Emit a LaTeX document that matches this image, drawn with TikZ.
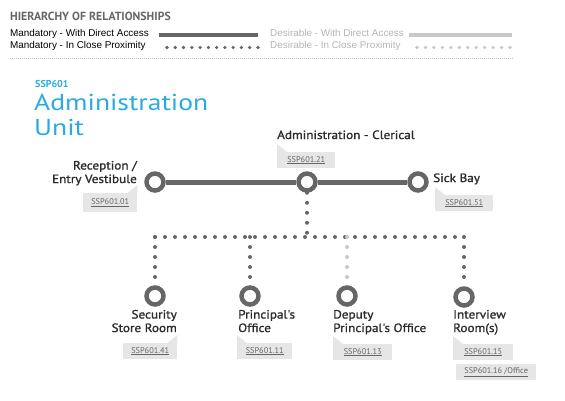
\documentclass[tikz,border=0pt]{standalone}
\usepackage{fontspec}
\setmainfont{PT Sans}
\newfontfamily\legendfont{Liberation Sans}
\newfontfamily\unitfont[FakeStretch=1.2]{PT Sans}
\newfontfamily\roomfont[FakeStretch=1.1,FakeBold=1.2]{PT Sans}
\usetikzlibrary{positioning}
\definecolor{linegrey}{HTML}{666666}
\definecolor{softgrey}{HTML}{C8C8C8}
\definecolor{softtext}{HTML}{B4B4B4}
\definecolor{tagfill}{HTML}{E6E6E6}
\definecolor{unitblue}{HTML}{29ABE2}
\definecolor{labelgrey}{HTML}{2B2B2B}

\begin{document}
\begin{tikzpicture}[x=1pt, y=-1pt,
		room/.style={circle,draw=linegrey,fill=white,line width=4.5pt,minimum size=17pt,inner sep=0pt},
		direct/.style={draw=linegrey,line width=5pt},
		close/.style={draw=linegrey,line width=4pt,line cap=round,dash pattern=on 0pt off 10pt},
		roomname/.style={inner sep=0pt,text=labelgrey,font=\roomfont\fontsize{12}{13.5}\selectfont},
		tag/.style={fill=tagfill,anchor=north west,minimum height=16pt,inner sep=0pt,
			text=linegrey,font=\fontsize{8.3}{9}\selectfont},
		legendtext/.style={anchor=base west,inner sep=0pt,font=\legendfont\fontsize{9.9}{11}\selectfont}
		]
		\useasboundingbox (0,0) rectangle (565,400);
		
		% legend
		\node[anchor=base west,inner sep=0pt,text=linegrey,font=\bfseries\fontsize{11.8}{12}\selectfont](legTitle) at (10,20){HIERARCHY OF RELATIONSHIPS};
		\node[legendtext](legMD) at (10,36){Mandatory - With Direct Access};
		\node[legendtext](legMC) at (10,48.3){Mandatory - In Close Proximity};
		\node[legendtext,text=softtext](legDD) at (270,36){Desirable - With Direct Access};
		\node[legendtext,text=softtext](legDC) at (270,48.3){Desirable - In Close Proximity};
		\coordinate (mdA) at (159,35);
		\coordinate (mdB) at (258,35);
		\coordinate (mcA) at (167,47.5);
		\coordinate (mcB) at (258,47.5);
		\coordinate (ddA) at (409,35);
		\coordinate (ddB) at (512,35);
		\coordinate (dcA) at (417,47.5);
		\coordinate (dcB) at (510,47.5);
		\draw[linegrey,line width=3.5pt] (mdA) -- (mdB);
		\draw[linegrey,line width=3.6pt,line cap=round,dash pattern=on 0pt off 8.27pt] (mcA) -- (mcB);
		\draw[softgrey,line width=3.5pt] (ddA) -- (ddB);
		\draw[softgrey,line width=3.6pt,line cap=round,dash pattern=on 0pt off 8.45pt] (dcA) -- (dcB);
		\coordinate (sepA) at (10,58.5);
		\coordinate (sepB) at (513,58.5);
		\draw[softgrey,line width=0.6pt,dash pattern=on 0.6pt off 1.4pt] (sepA) -- (sepB);
		
		% unit title
		\node[anchor=base west,inner sep=0pt,text=unitblue,font=\bfseries\fontsize{10}{12}\selectfont](unitCode) at (35,87){SSP601};
		\node[anchor=base west,inner sep=0pt,text=unitblue,font=\unitfont\fontsize{23}{25}\selectfont,align=left](unitName) at (34,135){Administration\\Unit};
		
		% rooms
		\node[room](Reception) at (155,182){};
		\node[room](Admin) at (307,182){};
		\node[room](SickBay) at (418,182){};
		\node[room](Security) at (155,296){};
		\node[room](Principal) at (250,296){};
		\node[room](Deputy) at (347,296){};
		\node[room](Interview) at (464,297){};
		
		\draw[direct] (Reception) -- (Admin);
		\draw[direct] (Admin) -- (SickBay);
		
		\coordinate (hub) at (307,237);
		\coordinate (jSecurity) at (155,237);
		\coordinate (jPrincipal) at (250,237);
		\coordinate (jDeputy) at (347,237);
		\coordinate (jInterview) at (464,237);
		\draw[close] (Admin) -- (hub);
		\draw[close] (jSecurity) -- (jInterview);
		\draw[close] (jSecurity) -- (Security);
		\draw[close] (jPrincipal) -- (Principal);
		\draw[close,draw=softgrey] (jDeputy) -- (Deputy);
		\draw[close] (jInterview) -- (Interview);
		
		% room names
		\node[roomname,align=right,anchor=base east](nReception) at (137,183){Reception /\\Entry Vestibule};
		\node[roomname,anchor=base west](nAdmin) at (277,139){Administration - Clerical};
		\node[roomname,anchor=base west](nSickBay) at (433,182){Sick Bay};
		\node[roomname,align=right,anchor=base east](nSecurity) at (177,332){Security\\Store Room};
		\node[roomname,align=left,anchor=base west](nPrincipal) at (238,332){Principal's\\Office};
		\node[roomname,align=left,anchor=base west](nDeputy) at (333,332){Deputy\\Principal's Office};
		\node[roomname,align=left,anchor=base west](nInterview) at (453,332){Interview\\Room(s)};
		
		% tags
		\node[tag,minimum width=54pt,minimum height=19pt](t01) at (83,193){\underline{SSP601.01}};
		\node[tag,minimum width=58pt](t21) at (277,152){\underline{SSP601.21}};
		\node[tag,minimum width=58pt](t51) at (435,195){\underline{SSP601.51}};
		\node[tag,minimum width=54pt](t41) at (123,343){\underline{SSP601.41}};
		\node[tag,minimum width=55pt](t11) at (237,343){\underline{SSP601.11}};
		\node[tag,minimum width=59pt](t13) at (333,344){\underline{SSP601.13}};
		\node[tag,minimum width=60pt](t15) at (453,344){\underline{SSP601.15}};
		\node[tag,minimum width=80pt](t16) at (456,364){\underline{SSP601.16 /Office}};
		\foreach \t in {t01,t41}
			\fill[tagfill] (\t.north east) -- ++(0,-8) -- ++(-10,8) -- cycle;
		\foreach \t in {t21,t51,t11,t13,t15}
			\fill[tagfill] (\t.north west) -- ++(0,-8) -- ++(10,8) -- cycle;
	\end{tikzpicture}
\end{document}
